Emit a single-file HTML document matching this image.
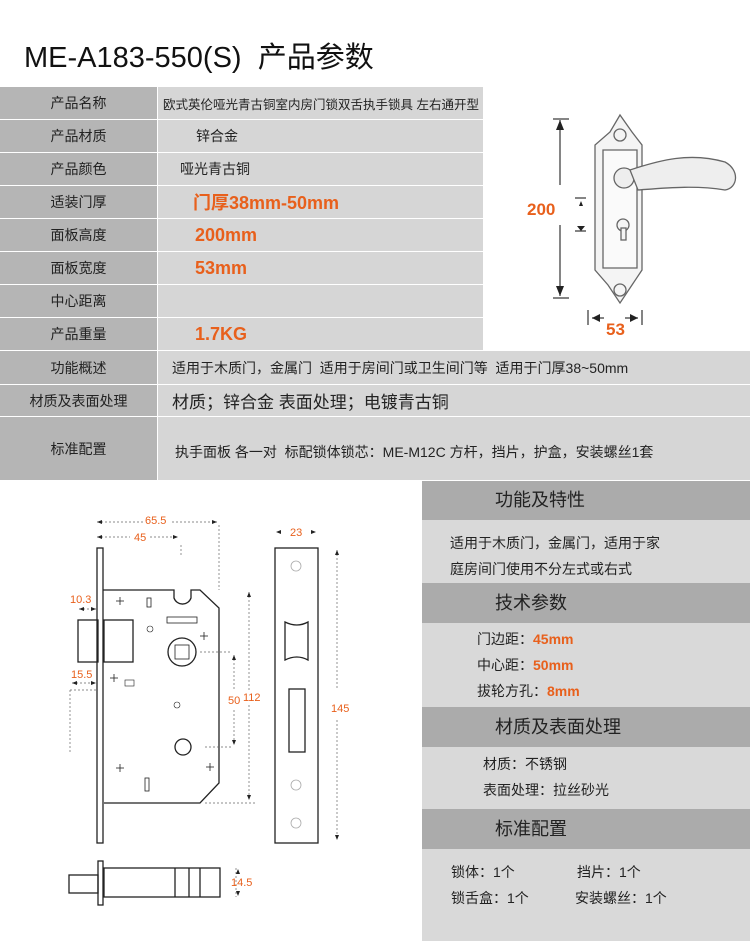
<!DOCTYPE html>
<html><head><meta charset="utf-8"><style>
body{margin:0;width:750px;height:941px;background:#fff;position:relative;overflow:hidden;font-family:"Liberation Sans","Noto Sans CJK SC",sans-serif;}
.a{position:absolute;}
.l{position:absolute;left:0;width:157px;background:#b5b5b5;color:#222;font-size:14px;display:flex;align-items:center;justify-content:center;}
.r{position:absolute;left:158px;background:#d6d6d6;color:#222;font-size:14px;display:flex;align-items:center;}
.o{color:#e8601c;font-weight:bold;font-size:18px;}
.h{position:absolute;left:422px;width:328px;background:#ababab;font-size:18px;color:#222;}
.c{position:absolute;left:422px;width:328px;background:#d9d9d9;font-size:14px;color:#222;}
.or{color:#e8601c;font-weight:bold;}
</style></head><body>
<div class="a" style="left:24px;top:34px;font-size:29px;color:#111;">ME-A183-550(S)&nbsp; 产品参数</div>

<div class="l" style="top:87px;height:32px;">产品名称</div><div class="r" style="top:87px;height:32px;width:325px;font-size:12.5px;padding-left:5px;box-sizing:border-box;">欧式英伦哑光青古铜室内房门锁双舌执手锁具 左右通开型</div>
<div class="l" style="top:120px;height:32px;">产品材质</div><div class="r" style="top:120px;height:32px;width:325px;padding-left:38px;box-sizing:border-box;">锌合金</div>
<div class="l" style="top:153px;height:32px;">产品颜色</div><div class="r" style="top:153px;height:32px;width:325px;padding-left:22px;box-sizing:border-box;">哑光青古铜</div>
<div class="l" style="top:186px;height:32px;">适装门厚</div><div class="r" style="top:186px;height:32px;width:325px;padding-left:35px;box-sizing:border-box;"><span class="o">门厚38mm-50mm</span></div>
<div class="l" style="top:219px;height:32px;">面板高度</div><div class="r" style="top:219px;height:32px;width:325px;padding-left:37px;box-sizing:border-box;"><span class="o">200mm</span></div>
<div class="l" style="top:252px;height:32px;">面板宽度</div><div class="r" style="top:252px;height:32px;width:325px;padding-left:37px;box-sizing:border-box;"><span class="o">53mm</span></div>
<div class="l" style="top:285px;height:32px;">中心距离</div><div class="r" style="top:285px;height:32px;width:325px;"></div>
<div class="l" style="top:318px;height:32px;">产品重量</div><div class="r" style="top:318px;height:32px;width:325px;padding-left:37px;box-sizing:border-box;"><span class="o">1.7KG</span></div>

<div class="l" style="top:351px;height:33px;">功能概述</div><div class="r" style="top:351px;height:33px;width:592px;padding-left:14px;box-sizing:border-box;">适用于木质门，金属门&nbsp; 适用于房间门或卫生间门等&nbsp; 适用于门厚38~50mm</div>
<div class="l" style="top:385px;height:31px;">材质及表面处理</div><div class="r" style="top:385px;height:31px;width:592px;padding-left:14px;box-sizing:border-box;font-size:17px;">材质；锌合金 表面处理；电镀青古铜</div>
<div class="l" style="top:417px;height:63px;">标准配置</div><div class="r" style="top:417px;height:63px;width:592px;padding-left:17px;box-sizing:border-box;padding-top:6px;">执手面板 各一对&nbsp; 标配锁体锁芯：ME-M12C 方杆，挡片，护盒，安装螺丝1套</div>

<!-- handle image -->
<svg class="a" style="left:500px;top:90px" width="250" height="260">
<g stroke="#333" fill="none" stroke-width="1.2">
<line x1="53" y1="29" x2="69" y2="29"/><line x1="60" y1="30" x2="60" y2="95"/><line x1="60" y1="135" x2="60" y2="206"/><line x1="53" y1="208" x2="69" y2="208"/>
<line x1="75" y1="108" x2="86" y2="108"/><line x1="75" y1="141" x2="86" y2="141"/>
<line x1="88" y1="220" x2="88" y2="235"/><line x1="142" y1="220" x2="142" y2="235"/><line x1="92" y1="228" x2="104" y2="228"/><line x1="125" y1="228" x2="138" y2="228"/>
</g>
<g fill="#222"><polygon points="60,30 56,40 64,40"/><polygon points="60,206 56,196 64,196"/><polygon points="79,112 83,112 81,117" transform="rotate(180 81 114)"/><polygon points="77,136 85,136 81,141"/><polygon points="92,228 100,224 100,232"/><polygon points="138,228 130,224 130,232"/></g>
<text x="27" y="125" font-size="17" font-weight="bold" fill="#e8601c" font-family="Liberation Sans">200</text>
<text x="106" y="245" font-size="17" font-weight="bold" fill="#e8601c" font-family="Liberation Sans">53</text>
<g stroke="#666" fill="#f4f4f4" stroke-width="1.3">
<path d="M120 25 L110 42 L95 55 L95 180 L108 195 L120 213 L132 195 L142 180 L142 55 L132 42 Z"/>
<path d="M103 60 L137 60 L137 178 L103 178 Z" fill="#fafafa"/>
<circle cx="120" cy="45" r="6"/><circle cx="120" cy="200" r="6"/>
<circle cx="124" cy="88" r="10" fill="#eee"/>
<path d="M130 80 C160 70 190 62 225 72 C240 80 238 98 225 100 C195 95 165 98 138 100 Z" fill="#eee"/>
<circle cx="123" cy="135" r="6"/><rect x="121" y="138" width="5" height="12"/>
</g>
</svg>

<!-- lock diagram -->
<svg class="a" style="left:0;top:480px" width="420" height="461" font-family="Liberation Sans">
<g transform="translate(0,-480)" stroke="#222" fill="none" stroke-width="1.3">
<rect x="97" y="548" width="6" height="295"/>
<path d="M103 590 L174 590 L174 598 A9 9 0 0 0 191 598 L191 590 L200 590 L219 608 L219 783 L200 803 L104 803"/>
<rect x="78" y="620" width="20" height="42"/><rect x="104" y="620" width="29" height="42"/>
<circle cx="182" cy="652" r="14"/><rect x="175" y="645" width="14" height="14" stroke-width="0.8"/>
<circle cx="183" cy="747" r="8"/>
<rect x="145" y="778" width="4" height="13" stroke-width="0.8"/><rect x="147" y="598" width="4" height="9" stroke-width="0.8"/>
<rect x="167" y="617" width="30" height="6" stroke-width="0.8"/>
<circle cx="150" cy="629" r="3" stroke-width="0.6"/><circle cx="177" cy="705" r="3" stroke-width="0.6"/>
<rect x="125" y="680" width="9" height="6" stroke-width="0.6"/>
<g stroke-width="0.8"><line x1="116" y1="601" x2="124" y2="601"/><line x1="120" y1="597" x2="120" y2="605"/><line x1="200" y1="636" x2="208" y2="636"/><line x1="204" y1="632" x2="204" y2="640"/><line x1="110" y1="678" x2="118" y2="678"/><line x1="114" y1="674" x2="114" y2="682"/><line x1="116" y1="768" x2="124" y2="768"/><line x1="120" y1="764" x2="120" y2="772"/><line x1="206" y1="767" x2="214" y2="767"/><line x1="210" y1="763" x2="210" y2="771"/></g>
<rect x="275" y="548" width="43" height="295"/>
<path d="M285 622 Q297 628 308 622 L308 660 Q297 654 285 660 Z"/>
<rect x="289" y="689" width="16" height="63"/>
<g stroke="#aaa" stroke-width="0.8"><circle cx="296" cy="566" r="5"/><circle cx="296" cy="785" r="5"/><circle cx="296" cy="823" r="5"/></g>
<rect x="98" y="861" width="5" height="44"/>
<rect x="69" y="875" width="29" height="18"/>
<rect x="104" y="868" width="116" height="29"/>
<line x1="175" y1="868" x2="175" y2="897"/><line x1="189" y1="868" x2="189" y2="897"/><line x1="200" y1="868" x2="200" y2="897"/>
</g>
<g transform="translate(0,-480)" stroke="#666" stroke-width="0.7" stroke-dasharray="2,2" fill="none">
<line x1="97" y1="522" x2="145" y2="522"/><line x1="172" y1="522" x2="217" y2="522"/>
<line x1="97" y1="537" x2="130" y2="537"/><line x1="150" y1="537" x2="178" y2="537"/>
<line x1="219" y1="525" x2="219" y2="590"/><line x1="181" y1="545" x2="181" y2="555"/>
<line x1="234" y1="655" x2="234" y2="690"/><line x1="234" y1="710" x2="234" y2="745"/>
<line x1="249" y1="592" x2="249" y2="690"/><line x1="249" y1="705" x2="249" y2="800"/>
<line x1="200" y1="652" x2="232" y2="652"/><line x1="205" y1="747" x2="232" y2="747"/><line x1="205" y1="803" x2="255" y2="803"/>
<line x1="337" y1="550" x2="337" y2="690"/><line x1="337" y1="720" x2="337" y2="840"/>
<line x1="70" y1="690" x2="97" y2="690"/><line x1="70" y1="690" x2="70" y2="752"/>
<line x1="79" y1="609" x2="97" y2="609"/><line x1="72" y1="683" x2="97" y2="683"/>
<line x1="236" y1="868" x2="236" y2="897"/>
</g>
<g transform="translate(0,-480)" fill="#222">
<polygon points="97,522 102,520 102,524"/><polygon points="217,522 212,520 212,524"/>
<polygon points="97,537 102,535 102,539"/><polygon points="178,537 173,535 173,539"/>
<polygon points="276,532 281,530 281,534"/><polygon points="316,532 311,530 311,534"/>
<polygon points="337,550 335,555 339,555"/><polygon points="337,840 335,835 339,835"/>
<polygon points="234,655 232,660 236,660"/><polygon points="234,745 232,740 236,740"/>
<polygon points="249,592 247,597 251,597"/><polygon points="249,800 247,795 251,795"/>
<polygon points="79,609 84,607 84,611"/><polygon points="96,609 91,607 91,611"/>
<polygon points="72,683 77,681 77,685"/><polygon points="96,683 91,681 91,685"/>
<polygon points="238,869 236,874 240,874"/><polygon points="238,896 236,891 240,891"/>
</g>
<g fill="#e8601c" font-size="11">
<text x="145" y="44">65.5</text><text x="134" y="61">45</text><text x="290" y="56">23</text>
<text x="70" y="123">10.3</text><text x="71" y="198">15.5</text>
<text x="228" y="224">50</text><text x="243" y="221">112</text><text x="331" y="232">145</text><text x="231" y="406">14.5</text>
</g>
</svg>

<div class="h" style="top:481px;height:39px;line-height:39px;padding-left:73px;box-sizing:border-box;">功能及特性</div>
<div class="c" style="top:520px;height:63px;padding:10px 0 0 28px;box-sizing:border-box;line-height:26px;">适用于木质门，金属门，适用于家<br>庭房间门使用不分左式或右式</div>
<div class="h" style="top:583px;height:40px;line-height:40px;padding-left:73px;box-sizing:border-box;">技术参数</div>
<div class="c" style="top:623px;height:84px;padding:3px 0 0 55px;box-sizing:border-box;line-height:26px;">门边距：<span class="or">45mm</span><br>中心距：<span class="or">50mm</span><br>拔轮方孔：<span class="or">8mm</span></div>
<div class="h" style="top:707px;height:40px;line-height:40px;padding-left:73px;box-sizing:border-box;">材质及表面处理</div>
<div class="c" style="top:747px;height:62px;padding:4px 0 0 61px;box-sizing:border-box;line-height:26px;">材质：不锈钢<br>表面处理：拉丝砂光</div>
<div class="h" style="top:809px;height:40px;line-height:40px;padding-left:73px;box-sizing:border-box;">标准配置</div>
<div class="c" style="top:849px;height:92px;box-sizing:border-box;">
<div class="a" style="left:29px;top:13px;">锁体：1个</div><div class="a" style="left:155px;top:13px;">挡片：1个</div>
<div class="a" style="left:29px;top:39px;">锁舌盒：1个</div><div class="a" style="left:153px;top:39px;">安装螺丝：1个</div>
</div>
</body></html>
